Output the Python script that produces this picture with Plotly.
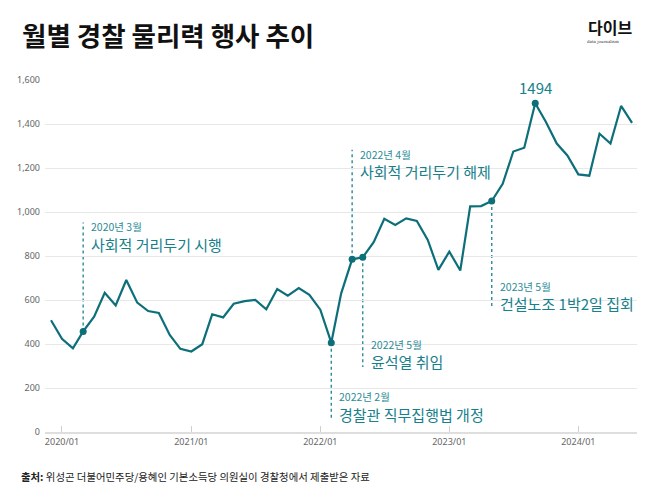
import plotly.graph_objects as go
import pandas as pd

# ---------------- data ----------------
months = pd.date_range("2019-12-01", "2024-06-01", freq="MS")
values = [508, 424, 380, 457, 524, 633, 575, 691, 588, 550, 541, 441, 378,
          366, 399, 535, 521, 583, 595, 600, 558, 650, 620, 654, 623,
          556, 406, 630, 785, 794, 863, 969, 941, 971, 959, 873, 737,
          820, 734, 1026, 1027, 1050, 1128, 1275, 1292, 1494, 1410, 1311, 1257,
          1171, 1165, 1356, 1311, 1482, 1405]

# events: date, small label, main label, dotted line end value, small-label y, main-label y
event_dates = ["2020-03-01", "2022-04-01", "2022-05-01", "2022-02-01", "2023-05-01"]
event_small = ["2020년 3월", "2022년 4월", "2022년 5월", "2022년 2월", "2023년 5월"]
event_main = ["사회적 거리두기 시행", "사회적 거리두기 해제", "윤석열 취임",
              "경찰관 직무집행법 개정", "건설노조 1박2일 집회"]
event_line_end = [952, 1283, 296, 65, 563]
event_small_y = [933, 1261, 398, 162, 661]
event_main_y = [852, 1184, 320, 81, 583]

peak_date = "2023-09-01"
peak_label = "1494"

xtick_vals = ["2020-01-01", "2021-01-01", "2022-01-01", "2023-01-01", "2024-01-01"]
ytick_vals = [0, 200, 400, 600, 800, 1000, 1200, 1400, 1600]

title = "월별 경찰 물리력 행사 추이"
logo = "다이브"
logo_sub = "data journalism"
source = "<b>출처:</b> 위성곤 더불어민주당/용혜인 기본소득당 의원실이 경찰청에서 제출받은 자료"

# ---------------- style ----------------
LINE = "#0d6f79"
ANN_MAIN = "#16808b"
ANN_SMALL = "#2a8c96"
DOT = "#2a8c96"
FONT = "Noto Sans CJK KR"

s = pd.Series(values, index=months)

fig = go.Figure()
fig.add_trace(go.Scatter(x=months, y=values, mode="lines",
                         line=dict(color=LINE, width=2.2), hoverinfo="skip"))

mk_dates = [pd.Timestamp(d) for d in event_dates] + [pd.Timestamp(peak_date)]
mk_vals = [s[d] for d in mk_dates]
fig.add_trace(go.Scatter(x=mk_dates, y=mk_vals, mode="markers",
                         marker=dict(color=LINE, size=7), hoverinfo="skip"))

shapes = []
annotations = []
for d, sm, mn, le, sy, my in zip(event_dates, event_small, event_main,
                                 event_line_end, event_small_y, event_main_y):
    v = s[pd.Timestamp(d)]
    shapes.append(dict(type="line", xref="x", yref="y", x0=d, x1=d, y0=v, y1=le,
                       line=dict(color=DOT, width=1.4, dash="dot"), layer="below"))
    annotations.append(dict(x=d, y=sy, xref="x", yref="y", text=sm, showarrow=False,
                            xanchor="left", yanchor="middle", xshift=6,
                            font=dict(family=FONT, size=10.5, color=ANN_SMALL)))
    annotations.append(dict(x=d, y=my, xref="x", yref="y", text=mn, showarrow=False,
                            xanchor="left", yanchor="middle", xshift=6,
                            font=dict(family=FONT, size=15, color=ANN_MAIN)))

annotations.append(dict(x=peak_date, y=s[pd.Timestamp(peak_date)], xref="x", yref="y",
                        text=peak_label, showarrow=False, yanchor="bottom", yshift=3,
                        font=dict(family=FONT, size=15, color=ANN_MAIN)))

# title, logo, source (paper coords: plot area x 45..637, y 80..432 px)
def px(xp):
    return (xp - 45) / 592.0

def py(yp):
    return (432 - yp) / 352.0

annotations.append(dict(x=px(20), y=py(34), xref="paper", yref="paper", text=f"<b>{title}</b>",
                        showarrow=False, xanchor="left", yanchor="middle",
                        font=dict(family=FONT, size=26.5, color="#111111")))
annotations.append(dict(x=px(610), y=py(27), xref="paper", yref="paper", text=f"<b>{logo}</b>",
                        showarrow=False, xanchor="center", yanchor="middle",
                        font=dict(family=FONT, size=16, color="#111111")))
annotations.append(dict(x=px(585), y=py(41.5), xref="paper", yref="paper", text=logo_sub,
                        showarrow=False, xanchor="left", yanchor="middle",
                        font=dict(family="DejaVu Serif", size=4, color="#333333")))
annotations.append(dict(x=px(19), y=py(476), xref="paper", yref="paper", text=source,
                        showarrow=False, xanchor="left", yanchor="middle",
                        font=dict(family=FONT, size=10.4, color="#222222")))

fig.update_layout(
    width=658, height=501,
    margin=dict(l=45, r=21, t=80, b=69),
    paper_bgcolor="white", plot_bgcolor="white",
    showlegend=False,
    shapes=shapes, annotations=annotations,
    font=dict(family=FONT),
    xaxis=dict(type="date", range=["2019-11-14", "2024-06-15"],
               tickvals=xtick_vals, tickformat="%Y/%m",
               ticks="inside", ticklen=6, tickcolor="#d0d0d0", tickwidth=1,
               showgrid=False, showline=True, linecolor="#dedede", linewidth=1.5,
               tickfont=dict(family="Noto Sans", size=9, color="#666666"),
               zeroline=False, fixedrange=True),
    yaxis=dict(range=[0, 1600], tickvals=ytick_vals, tickformat=",",
               showgrid=True, gridcolor="#e8e8e8", gridwidth=1,
               zeroline=False, showline=False, ticks="",
               tickfont=dict(family="Noto Sans", size=9, color="#666666"),
               ticklabelstandoff=4, fixedrange=True),
)

fig.write_html("out.html")
